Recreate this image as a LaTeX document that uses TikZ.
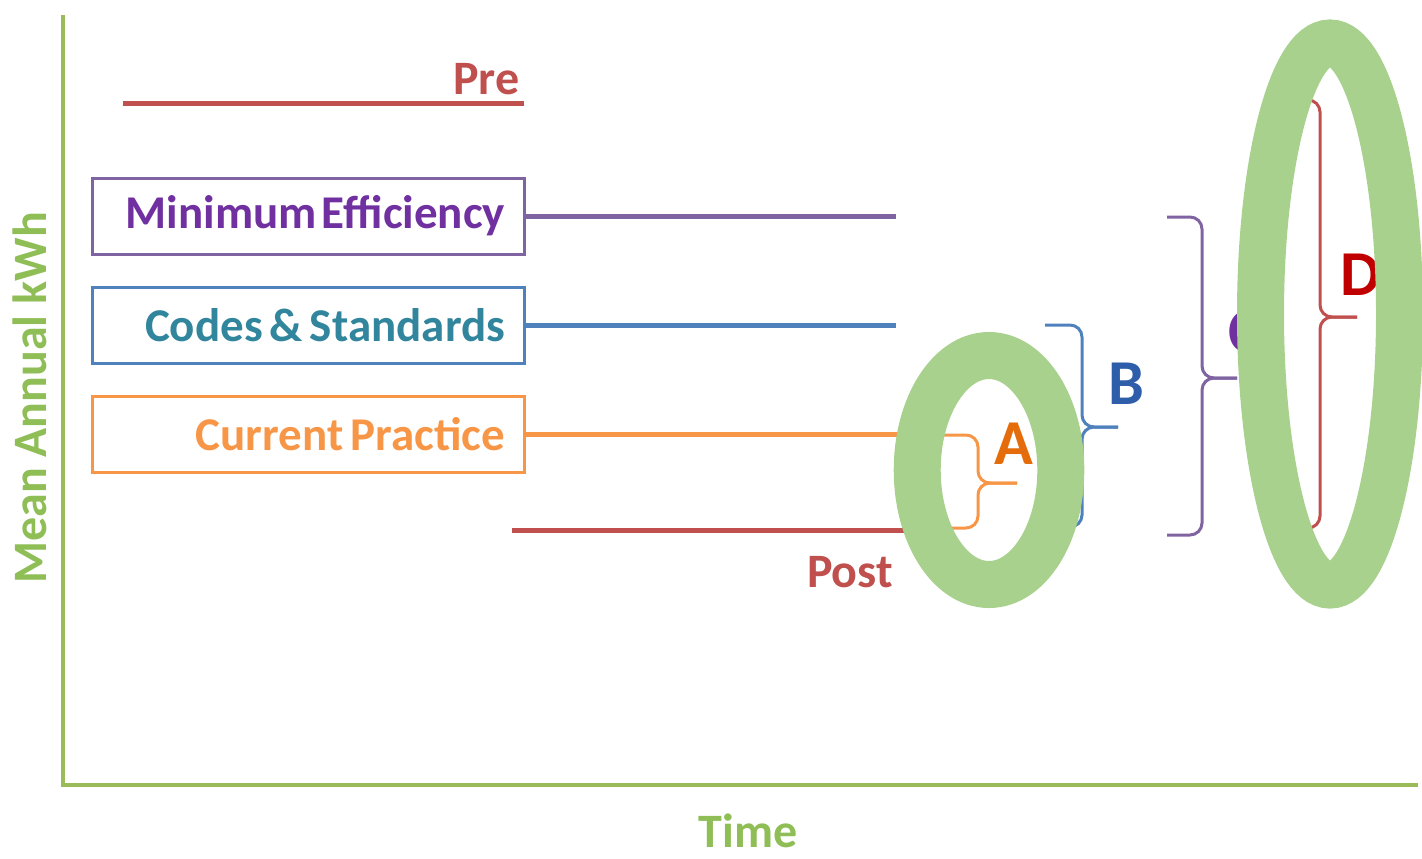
\documentclass[tikz,border=0pt]{standalone}
\usepackage{fontspec}
\setmainfont{Carlito}
\usetikzlibrary{positioning}

\definecolor{axisgreen}{RGB}{155,187,89}
\definecolor{axistext}{RGB}{143,190,86}
\definecolor{ringgreen}{RGB}{169,209,142}
\definecolor{prered}{RGB}{192,80,77}
\definecolor{minpurple}{RGB}{128,100,162}
\definecolor{mintext}{RGB}{112,48,160}
\definecolor{codeblue}{RGB}{79,129,189}
\definecolor{codetext}{RGB}{49,133,156}
\definecolor{curorange}{RGB}{247,150,70}
\definecolor{labelA}{RGB}{228,108,10}
\definecolor{labelB}{RGB}{46,93,170}
\definecolor{labelD}{RGB}{192,0,0}

\tikzset{
  levelbox/.style={draw, line width=1.5pt, text width=197pt, align=right,
    inner xsep=9.5pt, minimum height=38pt,
    font=\fontsize{23.5}{23.5}\selectfont\bfseries},
  levelline/.style={line width=2.5pt},
  bracket/.style={line width=1.5pt, rounded corners=6pt},
  bracelabel/.style={font=\fontsize{32}{32}\selectfont\bfseries},
  plainlabel/.style={font=\fontsize{24}{24}\selectfont\bfseries},
  ring/.style={draw=ringgreen, line width=23.5pt}
}

\begin{document}
\begin{tikzpicture}
        [x=0.5pt,y=-0.5pt]
        \useasboundingbox (0,0) rectangle (1422,858);

        % axes
        \coordinate (O) at (63,785);
        \coordinate (ytop) at (63,15);
        \coordinate (xend) at (1418,785);
        \draw[axisgreen, line width=2pt] (ytop) -- (O) -- (xend);
        \node[plainlabel, text=axistext, rotate=90] (ylabel) at (30,398) {Mean Annual kWh};
        \node[plainlabel, text=axistext, inner sep=0pt] (xlabel) at (748,831) {Time};

        % pre and post
        \coordinate (prestart) at (123,103);
        \coordinate (preend) at (524,103);
        \draw[levelline, prered] (prestart) -- (preend)
          node[plainlabel, text=prered, anchor=south east, inner sep=1pt, yshift=2pt] (pre) {Pre};
        \coordinate (poststart) at (512,530);
        \coordinate (postend) at (940,530);
        \draw[levelline, prered] (poststart) -- (postend);
        \node[plainlabel, text=prered] (post) at (850,572) {Post};

        % levels
        \node[levelbox, draw=minpurple, text=mintext] (mineff) at (308,216) {Minimum\hspace{2.5pt}Efficiency};
        \node[levelbox, draw=codeblue, text=codetext] (codes) at (308,325) {Codes\hspace{3.5pt}\&\hspace{3.5pt}Standards};
        \node[levelbox, draw=curorange, text=curorange] (current) at (308,434) {Current\hspace{3.5pt}Practice};
        \coordinate (mineffend) at (896,216);
        \coordinate (codesend) at (896,325);
        \coordinate (currentend) at (940,434);
        \draw[levelline, minpurple] (mineff.east) -- (mineffend);
        \draw[levelline, codeblue] (codes.east) -- (codesend);
        \draw[levelline, curorange] (current.east) -- (currentend);

        % brackets
        \draw[bracket, curorange] (940,435) -| (978,483) -- (1017,483);
        \draw[bracket, curorange] (940,528) -| (978,483) -- (1017,483);
        \draw[bracket, codeblue] (1045,325) -| (1082,427) -- (1118,427);
        \draw[bracket, codeblue] (1050,527) -| (1082,427) -- (1118,427);
        \draw[bracket, minpurple] (1167,217) -| (1202,378) -- (1237,378);
        \draw[bracket, minpurple] (1167,535) -| (1202,378) -- (1237,378);
        \draw[bracket, prered] (1307,100) -| (1320,317) -- (1357,317);
        \draw[bracket, prered] (1307,528) -| (1320,317) -- (1357,317);

        \node[bracelabel, text=labelA] (A) at (1014,444) {A};
        \node[bracelabel, text=labelB] (B) at (1126,384) {B};
        \node[bracelabel, text=mintext] (C) at (1245,332) {C};
        \node[bracelabel, text=labelD] (D) at (1361,275) {D};

        % rings
        \draw[ring] (989,470) ellipse [x radius=35.9pt, y radius=57.25pt];
        \draw[ring] (1330,314) ellipse [x radius=34.75pt, y radius=135.5pt];
      \end{tikzpicture}
\end{document}
